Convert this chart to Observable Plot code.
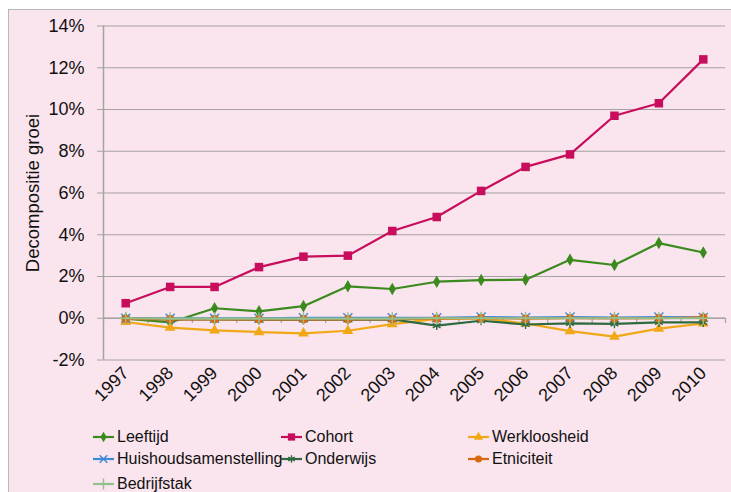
<!DOCTYPE html>
<html>
<head>
<meta charset="utf-8">
<script src="https://cdn.jsdelivr.net/npm/d3@7"></script>
<script src="https://cdn.jsdelivr.net/npm/@observablehq/plot@0.6"></script>
<style>
  html, body { margin: 0; padding: 0; background: #ffffff; }
  body { width: 731px; height: 492px; overflow: hidden; font-family: "Liberation Sans", Arial, sans-serif; }
  #frame { position: absolute; left: 8px; top: 9px; width: 740px; height: 500px; background: #fae4ed; border: 1px solid #b8b8b8; }
  #chart { position: absolute; left: 0; top: 0; }
  #legend { position: absolute; left: 0; top: 0; width: 722px; height: 490px; pointer-events: none; }
  .item { position: absolute; display: flex; align-items: center; font-size: 16px; color: #111; white-space: nowrap; height: 20px; }
  .item svg { margin-right: 3px; }
</style>
</head>
<body>
<div id="frame"><div id="chart"></div><div id="legend"></div></div>
<script>
const years = [1997, 1998, 1999, 2000, 2001, 2002, 2003, 2004, 2005, 2006, 2007, 2008, 2009, 2010];
const yTicks = [-2, 0, 2, 4, 6, 8, 10, 12, 14];

const leeftijd        = [-0.02, -0.2, 0.48, 0.33, 0.58, 1.53, 1.4, 1.75, 1.83, 1.85, 2.8, 2.55, 3.6, 3.15];
const cohort          = [0.72, 1.5, 1.5, 2.45, 2.95, 3.0, 4.18, 4.85, 6.1, 7.25, 7.85, 9.7, 10.3, 12.4];
const werkloosheid    = [-0.18, -0.45, -0.58, -0.66, -0.72, -0.6, -0.28, -0.03, 0.0, -0.25, -0.62, -0.88, -0.5, -0.25];
const huishouden      = [0.0, 0.0, 0.0, 0.0, 0.02, 0.02, 0.02, 0.02, 0.06, 0.03, 0.06, 0.03, 0.06, 0.04];
const onderwijs       = [0.0, -0.05, -0.05, -0.07, -0.07, -0.07, -0.05, -0.35, -0.12, -0.3, -0.25, -0.27, -0.2, -0.2];
const etniciteit      = [-0.03, -0.05, -0.05, -0.05, -0.05, -0.05, -0.04, -0.02, 0.0, -0.02, 0.0, -0.01, 0.0, 0.04];
const bedrijfstak     = [0.0, -0.02, -0.02, -0.02, -0.02, -0.02, -0.02, 0.0, 0.0, 0.0, 0.0, 0.0, 0.0, 0.0];

const seriesNames   = ["Leeftijd", "Cohort", "Werkloosheid", "Huishoudsamenstelling", "Onderwijs", "Etniciteit", "Bedrijfstak"];
const seriesValues  = [leeftijd, cohort, werkloosheid, huishouden, onderwijs, etniciteit, bedrijfstak];
const seriesColors  = ["#3b8a1e", "#c70d5b", "#f0a816", "#3d8ad6", "#2e6a40", "#d9690f", "#93c08d"];
const seriesSymbols = ["diamond", "square", "triangle", "times", "asterisk", "circle", "plus"];
const seriesFilled  = [true, true, true, false, false, true, false];
const seriesR       = [3.8, 4.8, 4.0, 4.2, 4.2, 4.2, 4.2];

const series = seriesNames.map((name, i) => ({
  name, color: seriesColors[i], symbol: seriesSymbols[i], filled: seriesFilled[i], r: seriesR[i],
  data: years.map((y, j) => ({year: y, value: seriesValues[i][j]}))
}));

const boundaries = d3.range(years[0] - 0.5, years[years.length - 1] + 1, 1);
const gridColor = "#a6a2a4";

const marks = [
  Plot.gridY(yTicks, {stroke: gridColor, strokeOpacity: 1, strokeWidth: 1.2}),
  Plot.ruleY([0], {stroke: gridColor, strokeWidth: 1.5}),
  Plot.ruleX(boundaries, {x: d => d, y1: 0, y2: -0.25, stroke: gridColor, strokeWidth: 1.2}),
  Plot.ruleX([boundaries[0]], {y1: -2, y2: 14, stroke: gridColor, strokeWidth: 1.5}),
  Plot.axisY(yTicks, {
    tickFormat: d => d + "%", tickSize: 6, tickPadding: 13, stroke: gridColor,
    fontSize: 18, label: null
  }),
  Plot.text(["Decompositie groei"], {
    frameAnchor: "left", rotate: -90, dx: -70, fontSize: 18.5, textAnchor: "middle", fill: "#111"
  }),
  Plot.axisX(years, {tickFormat: d => String(d), tickSize: 0, tickPadding: 10, tickRotate: -45, fontSize: 18, label: null})
];

for (const s of series) {
  marks.push(Plot.line(s.data, {x: "year", y: "value", stroke: s.color, strokeWidth: 2.2}));
  marks.push(Plot.dot(s.data, {
    x: "year", y: "value", symbol: () => s.symbol, r: s.r,
    fill: s.filled ? s.color : "none", stroke: s.color, strokeWidth: s.filled ? 0 : 1.4
  }));
}

const chart = Plot.plot({
  width: 722,
  height: 415,
  marginLeft: 94,
  marginRight: 6,
  marginTop: 15.5,
  marginBottom: 65.5,
  style: {background: "transparent", fontFamily: "'Liberation Sans', Arial, sans-serif", color: "#111", overflow: "visible"},
  x: {domain: [boundaries[0], boundaries[boundaries.length - 1]], axis: null},
  y: {domain: [-2, 14], axis: null},
  symbol: {type: "identity"},
  marks
});
document.getElementById("chart").appendChild(chart);

// legend
const legendCols = [84, 272, 459];
const legendRows = [417, 439, 464];
const legend = document.getElementById("legend");
series.forEach((s, i) => {
  const col = i % 3, row = Math.floor(i / 3);
  const item = document.createElement("div");
  item.className = "item";
  item.style.left = legendCols[col] + "px";
  item.style.top = legendRows[row] + "px";
  const sym = d3.create("svg").attr("width", 21).attr("height", 20);
  sym.append("line").attr("x1", 0).attr("x2", 21).attr("y1", 10).attr("y2", 10)
    .attr("stroke", s.color).attr("stroke-width", 2.2);
  const symType = {diamond: d3.symbolDiamond, square: d3.symbolSquare, triangle: d3.symbolTriangle,
    times: d3.symbolTimes, asterisk: d3.symbolAsterisk, circle: d3.symbolCircle, plus: d3.symbolPlus}[s.symbol];
  const size = Math.PI * (s.r * 0.85) ** 2;
  sym.append("path").attr("d", d3.symbol(symType, size)()).attr("transform", "translate(10.5,10)")
    .attr("fill", s.filled ? s.color : "none").attr("stroke", s.filled ? "none" : s.color).attr("stroke-width", 1.4);
  item.appendChild(sym.node());
  const t = document.createElement("span");
  t.textContent = s.name;
  item.appendChild(t);
  legend.appendChild(item);
});
</script>
</body>
</html>
